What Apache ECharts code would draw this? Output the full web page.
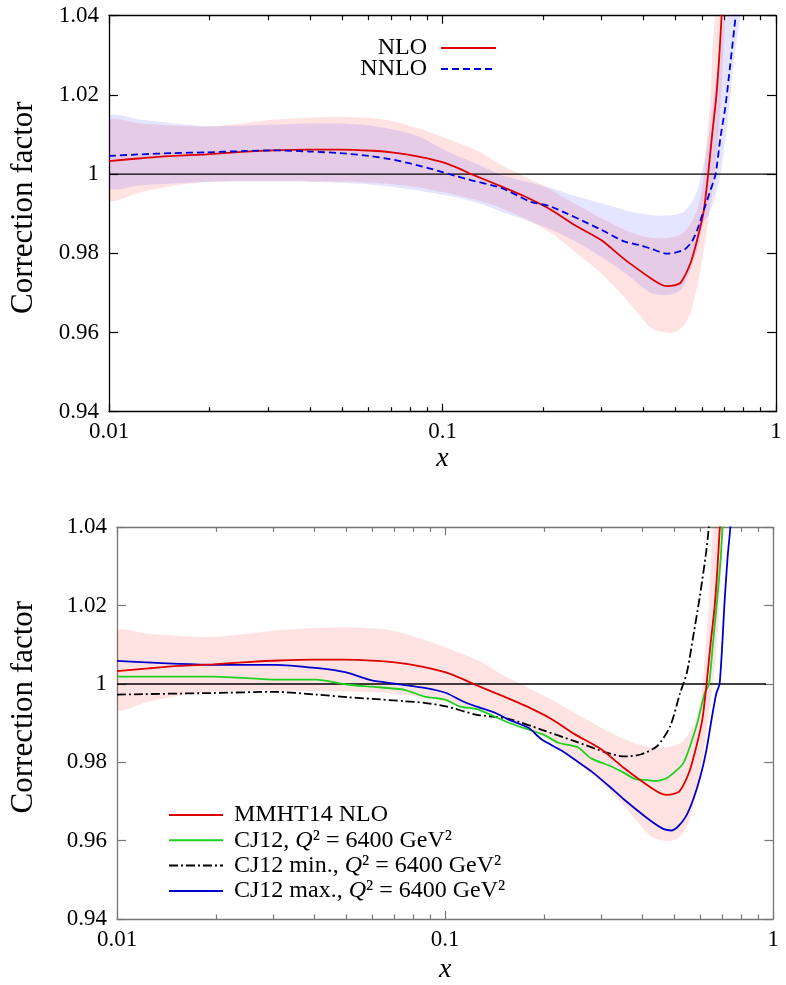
<!DOCTYPE html>
<html>
<head>
<meta charset="utf-8">
<script src="https://cdn.jsdelivr.net/npm/echarts@6/dist/echarts.min.js"></script>
<style>html,body{margin:0;padding:0;background:#fff}#c{width:786px;height:985px}</style>
</head>
<body>
<div id="c"></div>
<script>
// ---------------- data ----------------
const majorTicks = [0.01, 0.1, 1];
const minorTicks = [0.02,0.03,0.04,0.05,0.06,0.07,0.08,0.09,0.2,0.3,0.4,0.5,0.6,0.7,0.8,0.9];

// NLO (MMHT14 NLO) central curve
const nloX = [0.01,0.0125,0.0155,0.0196,0.025,0.0311,0.04,0.0492,0.0619,0.0703,0.0779,0.09,0.1,0.11,0.122,0.15,0.176,0.2114,0.248,0.2983,0.35,0.375,0.421,0.45,0.4723,0.495,0.518,0.5546,0.587,0.608,0.626,0.644,0.662,0.675,0.687,0.70];
const nloY = [1.0033,1.0040,1.0046,1.0050,1.0056,1.0060,1.0062,1.0062,1.0059,1.0055,1.0050,1.0040,1.0030,1.0017,1.0000,0.9969,0.9944,0.9910,0.9872,0.9834,0.9786,0.9767,0.9737,0.9722,0.9717,0.9719,0.9726,0.9776,0.9851,0.9910,1.0000,1.0103,1.0195,1.0290,1.0400,1.0520];
// NLO uncertainty band
const nloBandX  = [0.01,0.0125,0.016,0.0196,0.025,0.031,0.04,0.049,0.06,0.07,0.085,0.106,0.13,0.15,0.18,0.2114,0.25,0.2983,0.35,0.38,0.421,0.455,0.483,0.51,0.53,0.555,0.581,0.596,0.608,0.625,0.6365,0.644,0.655,0.666,0.682,0.705,0.72];
const nloBandLo = [0.9935,0.9955,0.9972,0.9980,0.9983,0.9983,0.9982,0.9981,0.9979,0.9975,0.9966,0.9950,0.9932,0.9914,0.9885,0.9851,0.9803,0.9750,0.9690,0.9655,0.9612,0.9601,0.9599,0.9605,0.9618,0.9652,0.9717,0.9765,0.9809,0.9875,0.9925,0.9950,1.0000,1.0060,1.0170,1.0400,1.0500];
const nloBandHi = [1.0135,1.0128,1.0122,1.0120,1.0128,1.0137,1.0143,1.0145,1.0142,1.0135,1.0115,1.0086,1.0055,1.0023,0.9990,0.9960,0.9925,0.9889,0.9860,0.9848,0.9839,0.9838,0.9840,0.9845,0.9853,0.9875,0.9910,0.9948,0.9994,1.0120,1.0200,1.0300,1.0400,1.0500,1.0600,1.0700,1.0800];

// NNLO central curve
const nnloX = [0.01,0.0125,0.0155,0.0196,0.025,0.0311,0.04,0.0492,0.0603,0.0694,0.08,0.09,0.1,0.11,0.12,0.15,0.184,0.2114,0.2983,0.35,0.393,0.421,0.4723,0.53,0.56,0.581,0.608,0.6365,0.659,0.682,0.705,0.73,0.757,0.775];
const nnloY = [1.0046,1.0050,1.0053,1.0055,1.0058,1.0060,1.0057,1.0053,1.0046,1.0038,1.0027,1.0016,1.0005,0.9995,0.9986,0.9965,0.9930,0.9918,0.9860,0.9830,0.9820,0.9812,0.9799,0.9809,0.9830,0.9860,0.9910,0.9960,1.0000,1.0095,1.0170,1.0280,1.0400,1.0480];
// NNLO uncertainty band
const nnloBandX  = [0.01,0.0125,0.016,0.0196,0.025,0.031,0.04,0.049,0.06,0.07,0.085,0.106,0.13,0.15,0.18,0.2114,0.25,0.2983,0.35,0.38,0.421,0.455,0.483,0.51,0.53,0.555,0.581,0.608,0.625,0.6365,0.66,0.682,0.70,0.72,0.74,0.757,0.79,0.80];
const nnloBandLo = [0.9966,0.9972,0.9977,0.9980,0.9981,0.9981,0.9980,0.9978,0.9974,0.9968,0.9958,0.9944,0.9925,0.9905,0.9882,0.9860,0.9830,0.9792,0.9752,0.9728,0.9700,0.9695,0.9696,0.9703,0.9720,0.9760,0.9809,0.9880,0.9895,0.9910,0.9950,1.0000,1.0070,1.0150,1.0250,1.0320,1.0420,1.0500];
const nnloBandHi = [1.0146,1.0137,1.0127,1.0121,1.0122,1.0125,1.0128,1.0128,1.0123,1.0114,1.0095,1.0053,1.0022,0.9998,0.9980,0.9965,0.9945,0.9927,0.9910,0.9902,0.9897,0.9895,0.9896,0.9900,0.9905,0.9925,0.9960,1.0030,1.0085,1.0130,1.0240,1.0330,1.0400,1.0500,1.0600,1.0700,1.0800,1.0900];

// CJ12, Q^2 = 6400 GeV^2
const cjX = [0.01,0.0197,0.025,0.0303,0.0403,0.0508,0.06,0.0752,0.0865,0.1,0.1104,0.127,0.156,0.2,0.2211,0.254,0.2786,0.32,0.351,0.38,0.41,0.436,0.474,0.532,0.583,0.618,0.637,0.655,0.670,0.691,0.70,0.71];
const cjY = [1.0019,1.0019,1.0015,1.0011,1.0011,0.9998,0.9993,0.9985,0.9968,0.9960,0.9943,0.9934,0.9901,0.9870,0.9850,0.9838,0.9810,0.9790,0.9773,0.9757,0.9755,0.9752,0.9760,0.9798,0.9892,0.9977,1.0000,1.0105,1.0190,1.0317,1.0400,1.0500];
// CJ12 min.
const cjMinX = [0.01,0.0197,0.0303,0.0403,0.0508,0.06,0.0752,0.0865,0.1007,0.124,0.156,0.197,0.248,0.3125,0.351,0.394,0.442,0.485,0.52,0.545,0.570,0.597,0.625,0.645];
const cjMinY = [0.9973,0.9977,0.9980,0.9973,0.9966,0.9962,0.9956,0.9952,0.9943,0.9922,0.9911,0.9883,0.9854,0.9824,0.9815,0.9820,0.9841,0.9892,0.9977,1.0028,1.0121,1.0223,1.0340,1.0450];
// CJ12 max.
const cjMaxX = [0.01,0.0197,0.0303,0.0403,0.0496,0.0597,0.0702,0.0865,0.1007,0.113,0.124,0.1425,0.156,0.1795,0.197,0.2262,0.248,0.281,0.32,0.351,0.412,0.462,0.49,0.508,0.54,0.57,0.60,0.625,0.65,0.67,0.686,0.70,0.709,0.725,0.74,0.75];
const cjMaxY = [1.0059,1.0049,1.0049,1.0041,1.0030,1.0009,1.0001,0.9990,0.9977,0.9956,0.9943,0.9926,0.9909,0.9888,0.9858,0.9830,0.9807,0.9775,0.9735,0.9705,0.9658,0.9630,0.9626,0.9633,0.9660,0.9705,0.9765,0.9830,0.9915,0.9975,1.0000,1.0110,1.0198,1.0320,1.0400,1.0470];

// reference line y = 1
const unityTopX = [0.01, 1];
const unityBotX = [0.01, 0.95];
const unityY = [1, 1];

// ---------------- helpers ----------------
const zip = (xs, ys) => xs.map((x, i) => [x, ys[i]]);
const SERIF = 'Liberation Serif';

function bandSeries(xs, lo, hi, color, xi, yi) {
  return {
    type: 'custom', xAxisIndex: xi, yAxisIndex: yi, clip: true, silent: true, z: 1,
    data: xs.map((x, i) => [x, lo[i], hi[i]]),
    encode: { x: 0, y: [1, 2] },
    renderItem: function (params, api) {
      if (params.dataIndex !== 0) return null;
      const pts = [];
      for (let i = 0; i < xs.length; i++) pts.push(api.coord([xs[i], lo[i]]));
      for (let i = xs.length - 1; i >= 0; i--) pts.push(api.coord([xs[i], hi[i]]));
      return { type: 'polygon', shape: { points: pts, smooth: 0.25 }, style: { fill: color, stroke: null } };
    }
  };
}

function xAxes(grid, col) {
  const base = { type: 'log', logBase: 10, min: 0.01, max: 1, gridIndex: grid, splitLine: { show: false } };
  return [
    Object.assign({}, base, {
      position: 'bottom',
      axisLine: { show: true, lineStyle: { color: col, width: 1.3 } },
      axisTick: { show: true, inside: true, length: 8, lineStyle: { color: col, width: 1.2 }, customValues: majorTicks },
      axisLabel: { show: true, customValues: majorTicks, color: '#000', fontFamily: SERIF, fontSize: 23, margin: 9 },
      name: 'x', nameLocation: 'middle', nameGap: grid === 0 ? 31 : 37,
      nameTextStyle: { fontFamily: SERIF, fontStyle: 'italic', fontSize: 28, color: '#000' }
    }),
    Object.assign({}, base, {
      position: 'bottom',
      axisLine: { show: false },
      axisTick: { show: true, inside: true, length: 4.5, lineStyle: { color: col, width: 1.2 }, customValues: minorTicks },
      axisLabel: { show: false }
    }),
    Object.assign({}, base, {
      position: 'top',
      axisLine: { show: true, lineStyle: { color: col, width: 1.3 } },
      axisTick: { show: true, inside: true, length: 8, lineStyle: { color: col, width: 1.2 }, customValues: majorTicks },
      axisLabel: { show: false }
    }),
    Object.assign({}, base, {
      position: 'top',
      axisLine: { show: false },
      axisTick: { show: true, inside: true, length: 4.5, lineStyle: { color: col, width: 1.2 }, customValues: minorTicks },
      axisLabel: { show: false }
    })
  ];
}

function yAxes(grid, col, gap, shift) {
  const base = { type: 'value', min: 0.94, max: 1.04, interval: 0.02, gridIndex: grid, splitLine: { show: false } };
  return [
    Object.assign({}, base, {
      position: 'left',
      axisLine: { show: true, lineStyle: { color: col, width: 1.3 } },
      axisTick: { show: true, inside: true, length: 9, lineStyle: { color: col, width: 1.2 } },
      axisLabel: { show: true, color: '#000', fontFamily: SERIF, fontSize: 23, margin: 10 },
      name: 'Correction factor', nameLocation: 'middle', nameGap: gap,
      nameTextStyle: { fontFamily: SERIF, fontSize: 31, color: '#000', padding: [0, 0, 0, shift] }
    }),
    Object.assign({}, base, {
      position: 'right',
      axisLine: { show: true, lineStyle: { color: col, width: 1.3 } },
      axisTick: { show: true, inside: true, length: 9, lineStyle: { color: col, width: 1.2 } },
      axisLabel: { show: false }
    })
  ];
}

const RED = '#dd0000', BLUE = '#0000dd', GREEN = '#1fd11f', BLUE2 = '#0000cc';
const PINK = 'rgba(255,0,0,0.11)', LAV = 'rgba(0,0,255,0.10)';

const series = [
  bandSeries(nloBandX, nloBandLo, nloBandHi, PINK, 0, 0),
  bandSeries(nnloBandX, nnloBandLo, nnloBandHi, LAV, 0, 0),
  { type: 'line', name: 'unityTop', xAxisIndex: 0, yAxisIndex: 0, data: zip(unityTopX, unityY), symbol: 'none',
    lineStyle: { color: '#000', width: 1.3 }, z: 2 },
  { type: 'line', name: 'NLO', xAxisIndex: 0, yAxisIndex: 0, data: zip(nloX, nloY), symbol: 'none', smooth: 0.25,
    lineStyle: { color: RED, width: 1.8 }, itemStyle: { color: RED }, z: 3 },
  { type: 'line', name: 'NNLO', xAxisIndex: 0, yAxisIndex: 0, data: zip(nnloX, nnloY), symbol: 'none', smooth: 0.25,
    lineStyle: { color: BLUE, width: 1.8, type: [7, 4] }, itemStyle: { color: BLUE }, z: 3 },

  bandSeries(nloBandX, nloBandLo, nloBandHi, PINK, 4, 2),
  { type: 'line', name: 'unityBot', xAxisIndex: 4, yAxisIndex: 2, data: zip(unityBotX, unityY), symbol: 'none',
    lineStyle: { color: '#000', width: 1.3 }, z: 2 },
  { type: 'line', name: 'CJ12 min.', xAxisIndex: 4, yAxisIndex: 2, data: zip(cjMinX, cjMinY), symbol: 'none', smooth: 0.25,
    lineStyle: { color: '#000', width: 1.8, type: [9, 3, 2, 3] }, itemStyle: { color: '#000' }, z: 3 },
  { type: 'line', name: 'CJ12', xAxisIndex: 4, yAxisIndex: 2, data: zip(cjX, cjY), symbol: 'none', smooth: 0.2,
    lineStyle: { color: GREEN, width: 1.8 }, itemStyle: { color: GREEN }, z: 3 },
  { type: 'line', name: 'CJ12 max.', xAxisIndex: 4, yAxisIndex: 2, data: zip(cjMaxX, cjMaxY), symbol: 'none', smooth: 0.2,
    lineStyle: { color: BLUE2, width: 1.8 }, itemStyle: { color: BLUE2 }, z: 3 },
  { type: 'line', name: 'MMHT14 NLO', xAxisIndex: 4, yAxisIndex: 2, data: zip(nloX, nloY), symbol: 'none', smooth: 0.25,
    lineStyle: { color: RED, width: 1.8 }, itemStyle: { color: RED }, z: 4 }
];

const legendLabels = {
  'MMHT14 NLO': 'MMHT14 NLO',
  'CJ12': 'CJ12, {q|Q}² = 6400 GeV²',
  'CJ12 min.': 'CJ12 min., {q|Q}² = 6400 GeV²',
  'CJ12 max.': 'CJ12 max., {q|Q}² = 6400 GeV²'
};

const option = {
  animation: false,
  backgroundColor: '#fff',
  grid: [
    { left: 107, right: 10, top: 15.7, height: 396 },
    { left: 109, right: 12.7, top: 527.3, height: 393.4 }
  ],
  xAxis: xAxes(0, '#000').concat(xAxes(1, '#777')),
  yAxis: yAxes(0, '#000', 70, 12).concat(yAxes(1, '#777', 78, 32)),
  legend: [
    { data: ['NLO', 'NNLO'], orient: 'vertical', align: 'right', right: 289, top: 36, padding: 0,
      itemWidth: 55, itemHeight: 14, itemGap: -3,
      itemStyle: { opacity: 0 },
      textStyle: { fontFamily: SERIF, fontSize: 24, color: '#000', lineHeight: 20, padding: [0, 9, 0, 0] } },
    { data: ['MMHT14 NLO', 'CJ12', 'CJ12 min.', 'CJ12 max.'], orient: 'vertical', align: 'left', left: 168, top: 803, padding: 0,
      itemWidth: 54, itemHeight: 14, itemGap: 1.3,
      itemStyle: { opacity: 0 },
      formatter: name => legendLabels[name],
      textStyle: { fontFamily: SERIF, fontSize: 24, color: '#000', lineHeight: 20, padding: [0, 0, 0, 6],
        rich: { q: { fontFamily: SERIF, fontSize: 24, fontStyle: 'italic', color: '#000', lineHeight: 20 } } } }
  ],
  series: series
};

const chart = echarts.init(document.getElementById('c'), null, { renderer: 'canvas' });
chart.setOption(option);
</script>
</body>
</html>
